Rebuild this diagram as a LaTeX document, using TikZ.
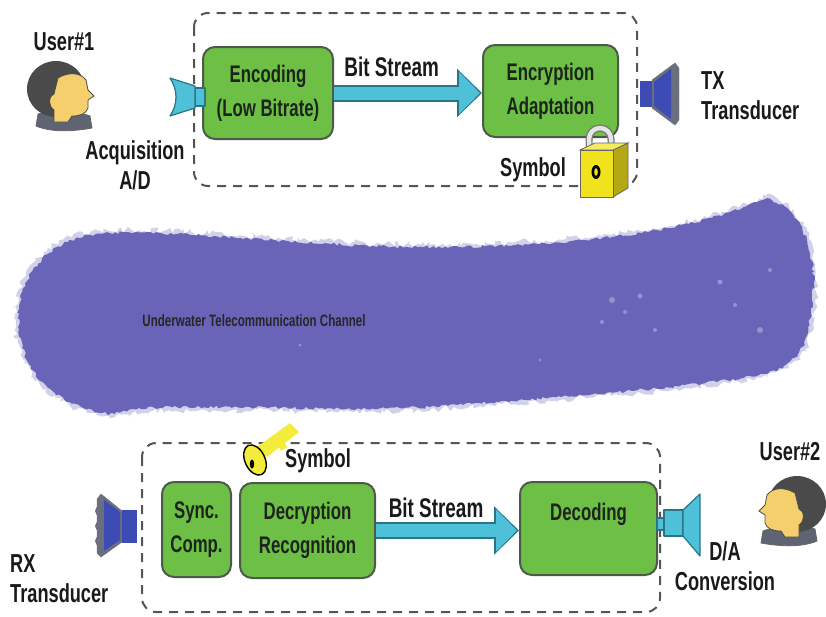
\documentclass[tikz,border=0pt]{standalone}
\usepackage{fontspec}
\setmainfont{Liberation Sans}[FakeStretch=0.7]
\usepackage{tikz}
\usetikzlibrary{arrows.meta,decorations.pathmorphing,calc}

\definecolor{boxgreen}{HTML}{6DBF45}
\definecolor{boxedge}{HTML}{4C5A4A}
\definecolor{flowcyan}{HTML}{4EC0D8}
\definecolor{flowedge}{HTML}{2A7585}
\definecolor{seapurple}{HTML}{6A64B8}
\definecolor{tdblue}{HTML}{3C4CB4}
\definecolor{tdgray}{HTML}{6B6E7C}
\definecolor{lockyellow}{HTML}{F0E21C}
\definecolor{keyyellow}{HTML}{F4EC3A}
\definecolor{hairgray}{HTML}{4A4A4A}
\definecolor{skin}{HTML}{F6CF6D}
\definecolor{collar}{HTML}{5F6472}
\definecolor{framegray}{HTML}{555555}
\definecolor{inktext}{HTML}{1C241C}

\begin{document}
\begin{tikzpicture}[
  x=1pt, y=-1pt,
  font=\bfseries,
  blk/.style={draw=boxedge, line width=2pt, rounded corners=12pt, fill=boxgreen, align=center,
    inner sep=0pt, text=inktext, font=\bfseries\fontsize{24}{34}\selectfont},
  frame/.style={draw=framegray, line width=2pt, dash pattern=on 9pt off 7pt, rounded corners=14pt},
  flowout/.style={line width=17pt, draw=flowedge, -{Triangle[width=47pt,length=25pt]}},
  flowin/.style={line width=13pt, draw=flowcyan, shorten >=2pt, -{Triangle[width=41pt,length=21pt]}},
  lab/.style={text=black!90, inner sep=0pt, font=\bfseries\fontsize{26}{30}\selectfont},
  bitlab/.style={text=black!90, inner sep=0pt, font=\bfseries\fontsize{27}{30}\selectfont},
  spk/.style={fill=flowcyan, draw=flowedge, line width=1.2pt, line join=round},
  userhead/.pic={
    \filldraw[fill=collar, draw=black!60, line width=0.8pt]
      (-22,22) .. controls (-10,18) and (15,18) .. (30,24) -- (32,36)
      .. controls (10,40) and (-10,40) .. (-24,34) -- cycle;
    \fill[hairgray] (-4,-3) ellipse [x radius=29, y radius=28];
    \filldraw[fill=skin, draw=black!70, line width=0.8pt]
      (-2,-14) .. controls (8,-20) and (20,-20) .. (26,-12) -- (28,-2) -- (34,4) -- (28,8)
      -- (28,16) .. controls (26,22) and (20,24) .. (12,24) -- (8,30) -- (-6,30) -- (-6,18)
      .. controls (-12,14) and (-12,4) .. (-6,2) -- cycle;
  },
]
\useasboundingbox (0,0) rectangle (826,616);

% channel between the two ends
\fill[seapurple!30, decorate, decoration={random steps, segment length=3pt, amplitude=3pt}]
  (15,330) .. controls (10,280) and (40,240) .. (90,232)
  .. controls (160,222) and (300,246) .. (450,244)
  .. controls (600,242) and (700,225) .. (765,196)
  .. controls (800,200) and (822,250) .. (815,300)
  .. controls (812,350) and (800,370) .. (760,378)
  .. controls (680,392) and (560,400) .. (430,410)
  .. controls (300,416) and (160,402) .. (110,418)
  .. controls (60,410) and (20,380) .. (15,330) -- cycle;
\fill[seapurple, decorate, decoration={random steps, segment length=3pt, amplitude=1.5pt}]
  (19,330) .. controls (14,282) and (43,243) .. (91,235)
  .. controls (160,225) and (300,249) .. (450,247)
  .. controls (600,245) and (700,228) .. (765,199)
  .. controls (799,204) and (819,252) .. (812,300)
  .. controls (809,349) and (797,367) .. (759,375)
  .. controls (680,389) and (560,397) .. (430,407)
  .. controls (300,413) and (160,399) .. (110,414)
  .. controls (61,407) and (24,379) .. (19,330) -- cycle;
\foreach \sx/\sy/\sr in {612/300/3, 625/312/2, 640/296/2.5, 602/322/2, 655/330/2, 720/282/2.5, 735/305/2, 760/330/3, 770/270/2, 300/345/1.5, 540/360/1.5}
  \fill[white, opacity=0.3] (\sx,\sy) circle (\sr);
\node[inner sep=0pt, text=black!85, font=\bfseries\fontsize{16.5}{18}\selectfont] (chan) at (254,321)
  {Underwater Telecommunication Channel};

% ---- transmitter side ----
\draw[frame] (194,13) rectangle (637,186);
\node[blk, minimum width=130pt, minimum height=92pt] (enc) at (268,93) {Encoding\\(Low Bitrate)};
\node[blk, minimum width=135pt, minimum height=92pt] (encr) at (550.5,91) {Encryption\\Adaptation};
\draw[flowout] (enc.east) -- (enc.east -| encr.west);
\draw[flowin] (enc.east) -- (enc.east -| encr.west);
\path (enc.east) -- (enc.east -| encr.west) node[pos=0.39, above=16pt, bitlab] (bs1) {Bit Stream};

% acquisition horn
\filldraw[spk] (195,88) rectangle (205,106);
\filldraw[spk] (170,78) -- (195,86) -- (195,108) -- (170,116) .. controls (178,104) and (178,90) .. (170,78) -- cycle;

% tx transducer
\foreach \by in {79,94,109} \fill[tdgray] (674,\by) circle (5);
\filldraw[fill=tdgray, draw=tdgray] (652,80) -- (675,63) -- (679,68) -- (679,120) -- (675,125) -- (652,108) -- cycle;
\fill[tdblue] (640,81) rectangle (652,107);
\fill[tdblue] (654,82) -- (671,69) -- (671,119) -- (654,106) -- cycle;

% lock
\draw[line width=7pt, draw=black!55] (589,152) -- (589,139) arc[start angle=180, end angle=360, radius=11] -- (611,152);
\draw[line width=4.5pt, draw=black!10] (589,152) -- (589,139) arc[start angle=180, end angle=360, radius=11] -- (611,152);
\filldraw[fill=lockyellow!75!black, draw=black!60, line width=0.8pt] (613,150) -- (628,143) -- (628,188) -- (613,197) -- cycle;
\filldraw[fill=lockyellow!70!white, draw=black!60, line width=0.8pt] (580,150) -- (595,143) -- (628,143) -- (613,150) -- cycle;
\filldraw[fill=lockyellow, draw=black!60, line width=0.8pt] (580,150) rectangle (613,197);
\fill[black] (596,172) ellipse [x radius=4.5, y radius=7];
\fill[lockyellow] (596,172) ellipse [x radius=1.8, y radius=3.8];

\node[lab] (sym1) at (533,170) {Symbol};
\pic at (60,92) {userhead};
\node[lab] (user1) at (64,42) {User\#1};
\node[lab, align=center] (acq) at (135,165) {Acquisition\\A/D};
\node[lab, align=left, anchor=west] (tx) at (701,96) {TX\\Transducer};

% ---- receiver side ----
\draw[frame] (142,443) rectangle (660,612);
\node[blk, minimum width=69pt, minimum height=95pt] (sync) at (196.5,529.5) {Sync.\\Comp.};
\node[blk, minimum width=135pt, minimum height=95pt] (decr) at (307.5,530.5) {Decryption\\Recognition};
\node[blk, minimum width=137pt, minimum height=93pt] (dec) at (588.5,528.5) {Decoding\\\mbox{}};
\draw[flowout] (decr.east) -- (decr.east -| dec.west);
\draw[flowin] (decr.east) -- (decr.east -| dec.west);
\path (decr.east) -- (decr.east -| dec.west) node[pos=0.42, above=13pt, bitlab] (bs2) {Bit Stream};

% rx transducer
\foreach \by in {511,526,541} \fill[tdgray] (100,\by) circle (5);
\filldraw[fill=tdgray, draw=tdgray] (122,511) -- (101,494) -- (97,499) -- (97,553) -- (101,557) -- (122,542) -- cycle;
\fill[tdblue] (122,510) rectangle (137,543);
\fill[tdblue] (120,512) -- (104,500) -- (104,551) -- (120,540) -- cycle;

% d/a speaker
\filldraw[spk] (657,518) rectangle (664,530);
\filldraw[spk] (664,510) rectangle (683,536);
\filldraw[spk] (683,510) -- (700,494) -- (700,556) -- (683,536) -- cycle;

% key
\fill[keyyellow] (257,447) -- (290,423) -- (299,432) -- (267,457) -- cycle;
\fill[keyyellow] (277,444) -- (281,451) -- (287,447) -- (283,440) -- cycle;
\filldraw[fill=keyyellow, draw=black, line width=1.4pt, rotate around={25:(255,460)}] (255,460) ellipse [x radius=10, y radius=16];
\fill[black] (252,464) ellipse [x radius=2.2, y radius=4.5];

\node[lab] (sym2) at (318,461) {Symbol};
\pic[xscale=-1] at (793,507) {userhead};
\node[lab] (user2) at (790,452) {User\#2};
\node[lab, align=center] (dac) at (725,566) {D/A\\Conversion};
\node[lab, align=left, anchor=west] (rx) at (10,579) {RX\\Transducer};
\end{tikzpicture}
\end{document}
